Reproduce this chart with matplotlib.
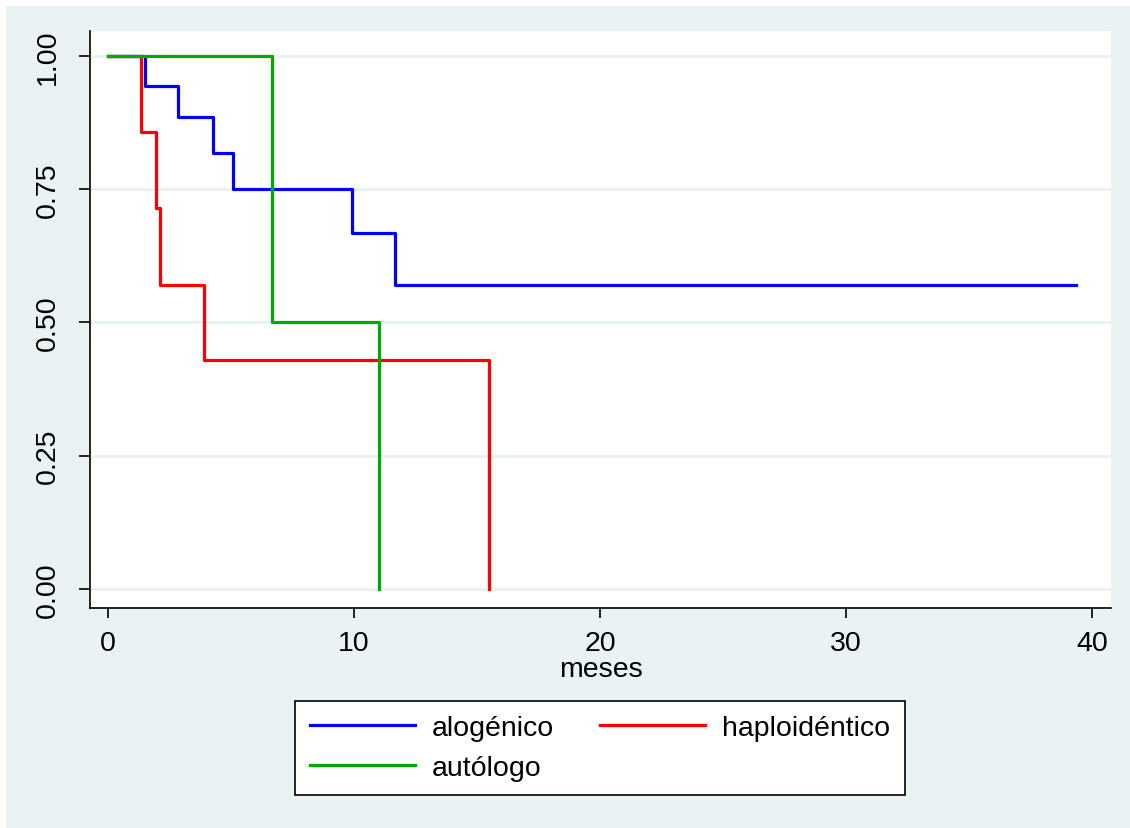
import matplotlib.pyplot as plt
from matplotlib.patches import Rectangle

plt.rcParams['font.family'] = ['Liberation Sans', 'DejaVu Sans']

# Kaplan-Meier steps (months, survival)
alog_t = [0, 1.5, 2.85, 4.25, 5.1, 9.9, 11.65, 39.35]
alog_s = [1.0, 0.944, 0.886, 0.818, 0.75, 0.667, 0.571, 0.571]
haplo_t = [0, 1.35, 1.95, 2.1, 3.9, 15.5]
haplo_s = [1.0, 0.857, 0.714, 0.571, 0.429, 0.0]
auto_t = [0, 6.65, 11.0]
auto_s = [1.0, 0.5, 0.0]

x_ticks = [0, 10, 20, 30, 40]
y_ticks = [0.0, 0.25, 0.5, 0.75, 1.0]
y_ticklabels = ['0.00', '0.25', '0.50', '0.75', '1.00']

bg = '#EAF2F3'
W, H = 1130, 829
fig = plt.figure(figsize=(W/100, H/100), dpi=100, facecolor='white')
fig.patches.append(Rectangle((6/W, 0), 1 - 6/W, 1 - 7/H, transform=fig.transFigure,
                             facecolor=bg, edgecolor='none', zorder=-10))

ax = fig.add_axes([90/W, 1 - 609/H, (1111-90)/W, (609-32)/H])
ax.set_facecolor('white')

l1, = ax.step(alog_t, alog_s, where='post', color='#0000FF', lw=2.3, label='alogénico')
l2, = ax.step(haplo_t, haplo_s, where='post', color='#FF0000', lw=2.3, label='haploidéntico')
l3, = ax.step(auto_t, auto_s, where='post', color='#00AA00', lw=2.3, label='autólogo')

ax.set_xlim(-0.73, 40.77)
ax.set_ylim(-0.036, 1.047)
ax.set_xticks(x_ticks)
ax.set_yticks(y_ticks)
ax.set_yticklabels(y_ticklabels, rotation=90, va='center')
ax.yaxis.grid(True, color=bg, lw=2.2)
ax.set_axisbelow(True)
for s in ['top', 'right']:
    ax.spines[s].set_visible(False)
for s in ['left', 'bottom']:
    ax.spines[s].set_linewidth(1.2)
ax.tick_params(axis='x', length=7.5, width=1.2, labelsize=20.5, pad=8)
ax.tick_params(axis='y', length=8, width=1.2, labelsize=20.5, pad=13)
ax.set_xlabel('meses', fontsize=20.5, labelpad=0)

leg = fig.legend([l1, l3, l2], ['alogénico', 'autólogo', 'haploidéntico'], ncol=2,
                 loc='center', bbox_to_anchor=(600/W, 1 - 749/H),
                 fontsize=20.5, frameon=True, fancybox=False, edgecolor='black',
                 framealpha=1, facecolor='white',
                 handlelength=3.7, handletextpad=0.6, columnspacing=1.6,
                 labelspacing=0.5, borderpad=0.5)
leg.get_frame().set_linewidth(1.2)

fig.savefig('out.png', dpi=100, facecolor='white')
